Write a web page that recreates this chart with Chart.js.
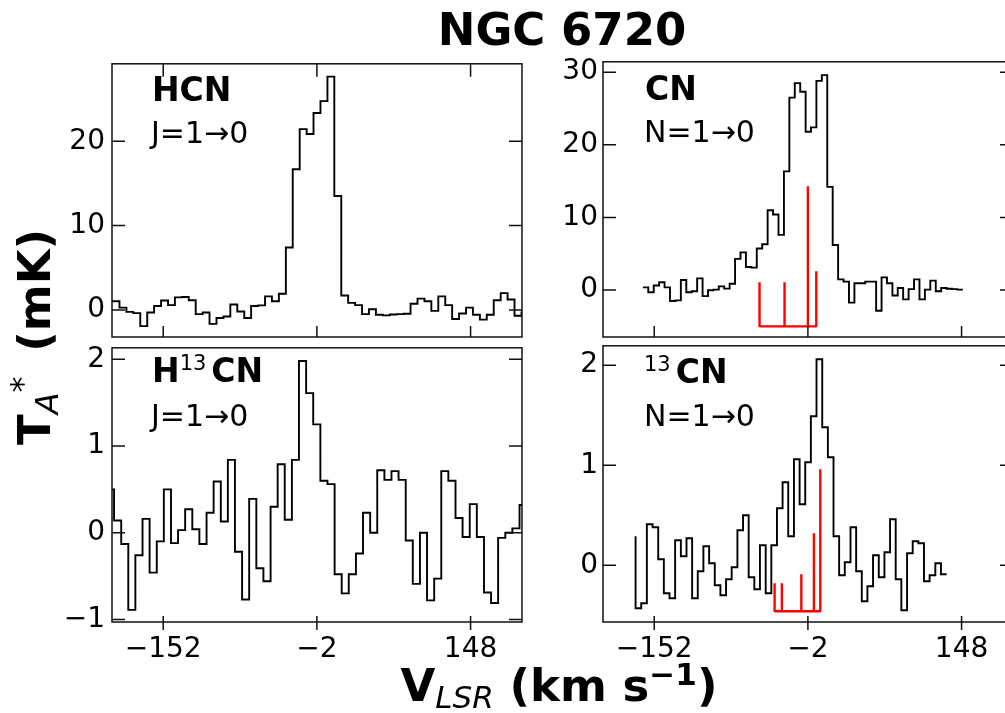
<!DOCTYPE html>
<html>
<head>
<meta charset="utf-8">
<script src="https://cdn.jsdelivr.net/npm/chart.js@4.4.1/dist/chart.umd.min.js"></script>
<style>
  html, body { margin: 0; padding: 0; background: #fff; overflow: hidden; }
  #fig { position: relative; width: 1005px; height: 713px; overflow: hidden;
         font-family: 'DejaVu Sans', sans-serif; color: #000; }
  #fig canvas { position: absolute; }
  .t { position: absolute; white-space: nowrap; line-height: 1; }
  .b { font-weight: bold; }
  .iso { font-size: 21px; font-weight: normal; vertical-align: 12px; line-height: 0; margin-right: 5px; }
</style>
</head>
<body>
<div id="fig">
  <canvas id="cTL"></canvas>
  <canvas id="cTR"></canvas>
  <canvas id="cBL"></canvas>
  <canvas id="cBR"></canvas>

  <div class="t b" style="left:262px;top:7px;width:600px;text-align:center;font-size:45px">NGC 6720</div>

  <div class="t b" style="left:152px;top:73px;font-size:33px">HCN</div>
  <div class="t" style="left:151px;top:118px;font-size:30px">J=1→0</div>
  <div class="t b" style="left:645px;top:72px;font-size:33px">CN</div>
  <div class="t" style="left:644px;top:117px;font-size:30px">N=1→0</div>
  <div class="t b" style="left:152px;top:354px;font-size:33px">H<span class="iso">13</span>CN</div>
  <div class="t" style="left:151px;top:401px;font-size:30px">J=1→0</div>
  <div class="t b" style="left:644px;top:355px;font-size:33px"><span class="iso">13</span>CN</div>
  <div class="t" style="left:644px;top:401px;font-size:30px">N=1→0</div>

  <div class="t b" style="left:259px;top:663px;width:600px;text-align:center;font-size:45px">V<span style="font-size:31px;font-style:italic;font-weight:normal;vertical-align:-7px;line-height:0">LSR</span> (km s<span style="font-size:31px;vertical-align:16px;line-height:0">−1</span>)</div>
  <div class="t b" style="left:12px;top:445px;font-size:45px;transform-origin:0 0;transform:rotate(-90deg)">T<span style="font-size:32px;font-style:italic;font-weight:normal;vertical-align:-8px;line-height:0">A</span><span style="font-size:32px;font-weight:normal;vertical-align:17px;line-height:0;margin-right:9px">*</span> (mK)</div>
</div>

<script>
// channel velocities (km/s, right edge of each channel) and antenna temperatures (mK)
const xTicks = [-152, -2, 148];

const hcnVel = [-208.2, -201.5, -194.7, -187.9, -181.2, -174.4, -167.6, -160.9, -154.1, -147.3,
  -140.6, -133.8, -127.1, -120.3, -113.5, -106.8, -100.0, -93.2, -86.5, -79.7,
  -72.9, -66.2, -59.4, -52.6, -45.9, -39.1, -32.3, -25.6, -18.8, -12.0,
  -5.3, 1.5, 8.3, 15.0, 21.8, 28.5, 35.3, 42.1, 48.8, 55.6,
  62.4, 69.1, 75.9, 82.7, 89.4, 96.2, 103.0, 109.7, 116.5, 123.3,
  130.0, 136.8, 143.6, 150.3, 157.1, 163.8, 170.6, 177.4, 184.1, 190.9,
  197.7, 204.4];
const hcnT = [1.03, 1.03, 1.03, 0.27, -0.23, -0.38, -1.92, -0.31, 0.46, 1.11,
  0.57, 1.49, 1.53, 1.15, -0.50, -0.31, -1.65, -0.96, -0.77, 0.65,
  -0.19, -0.96, 0.46, 0.54, 1.61, 1.03, 1.92, 7.41, 16.68, 21.44,
  20.87, 23.35, 24.76, 27.67, 13.51, 1.72, 0.84, 0.57, -0.50, 0.08,
  -0.57, -0.65, -0.55, -0.50, -0.45, 0.73, 1.34, 1.03, -0.11, 1.61,
  0.57, -1.07, -0.42, 0.27, -0.57, -1.15, -0.57, 1.15, 1.99, 1.23,
  -0.69, -0.30];

const h13cnVel = [-206.9, -200.0, -193.0, -186.1, -179.2, -172.2, -165.3, -158.3, -151.4, -144.4,
  -137.5, -130.6, -123.6, -116.7, -109.7, -102.8, -95.8, -88.9, -82.0, -75.0,
  -68.1, -61.1, -54.2, -47.2, -40.3, -33.4, -26.4, -19.5, -12.5, -5.6,
  1.4, 8.3, 15.3, 22.2, 29.1, 36.1, 43.0, 50.0, 56.9, 63.9,
  70.8, 77.7, 84.7, 91.6, 98.6, 105.5, 112.5, 119.4, 126.3, 133.3,
  140.2, 147.2, 154.1, 161.1, 168.0, 174.9, 181.9, 188.8, 195.8, 202.7];
const h13cnT = [0.50, 0.50, 0.14, -0.13, -0.89, -0.26, 0.16, -0.46, -0.10, 0.50,
  -0.12, 0.03, 0.27, 0.04, -0.13, 0.23, 0.59, 0.13, 0.84, -0.22,
  -0.77, 0.39, -0.41, -0.56, 0.30, 0.79, 0.15, 0.84, 1.98, 1.61,
  1.25, 0.60, 0.56, -0.48, -0.70, -0.48, -0.24, 0.23, 0.00, 0.72,
  0.61, 0.71, 0.61, -0.09, -0.59, 0.00, -0.78, -0.53, 0.71, 0.60,
  0.17, -0.05, 0.33, -0.05, -0.69, -0.81, -0.06, 0.00, 0.05, 0.32];

const cnVel = [-163.1, -157.8, -152.5, -147.2, -141.9, -136.6, -131.3, -126.0, -120.7, -115.4,
  -110.1, -104.8, -99.5, -94.2, -89.0, -83.7, -78.4, -73.1, -67.8, -62.5,
  -57.2, -51.9, -46.6, -41.3, -36.0, -30.7, -25.4, -20.1, -14.8, -9.5,
  -4.2, 1.0, 6.3, 11.6, 16.9, 22.2, 27.5, 32.8, 38.1, 43.4,
  48.7, 54.0, 59.3, 64.6, 69.9, 75.2, 80.5, 85.7, 91.0, 96.3,
  101.6, 106.9, 112.2, 117.5, 122.8, 128.1, 133.4, 138.7, 144.0, 149.3];
const cnT = [0.36, 0.36, -0.31, 0.63, 1.07, 0.36, -1.51, -1.42, 1.39, -0.31,
  -0.17, 1.61, -0.84, -0.04, 0.05, 0.50, 0.19, 0.86, 4.29, 5.18,
  3.17, 3.08, 5.72, 6.30, 10.98, 10.40, 7.60, 16.34, 26.5, 28.5,
  27.3, 21.8, 22.4, 28.8, 29.6, 14.2, 6.2, 1.47, 1.16, -1.74,
  0.94, 0.94, 1.16, 1.16, -2.85, 1.74, 0.94, -0.76, 0.27, -1.29,
  0.13, 1.47, -1.29, 0.05, 1.30, -0.17, 0.27, 0.18, 0.13, 0.05];

const c13nVel = [-170.2, -164.7, -159.2, -153.6, -148.1, -142.6, -137.1, -131.6, -126.0, -120.5,
  -115.0, -109.5, -104.0, -98.4, -92.9, -87.4, -81.9, -76.4, -70.8, -65.3,
  -59.8, -54.3, -48.8, -43.2, -37.7, -32.2, -26.7, -21.2, -15.6, -10.1,
  -4.6, 0.9, 6.4, 12.0, 17.5, 23.0, 28.5, 34.0, 39.6, 45.1,
  50.6, 56.1, 61.6, 67.2, 72.7, 78.2, 83.7, 89.2, 94.8, 100.3,
  105.8, 111.3, 116.8, 122.4, 127.9, 133.4];
const c13nT = [0.29, -0.43, -0.38, 0.41, 0.38, 0.06, -0.28, -0.33, 0.25, 0.09,
  0.27, -0.33, -0.06, 0.19, 0.02, -0.20, -0.30, -0.14, -0.02, 0.35,
  0.50, -0.12, -0.24, 0.20, -0.28, 0.20, 0.57, 0.83, 0.29, 1.06,
  0.61, 1.03, 1.49, 2.06, 1.38, 1.08, 0.29, -0.10, 0.03, 0.38,
  -0.06, -0.36, -0.21, 0.10, -0.12, 0.13, 0.46, -0.14, -0.45, 0.12,
  0.24, 0.22, -0.16, -0.10, 0.02, -0.09];

// hyperfine components (red combs)
const cnHfsVel = [-49.2, -24.8, -2.0, 6.2];
const cnHfsT = [1.07, 1.07, 14.3, 2.6];
const cnHfsBase = -5.0;
const c13nHfsVel = [-34.5, -27.4, -8.4, 3.9, 10.1];
const c13nHfsT = [-0.18, -0.18, -0.09, 0.32, 0.96];
const c13nHfsBase = -0.46;

const yTicksHCN = [0, 10, 20];
const yTicksCN = [0, 10, 20, 30];
const yTicksH13CN = [-1, 0, 1, 2];
const yTicks13CN = [0, 1, 2];

Chart.defaults.font.family = "'DejaVu Sans', sans-serif";
Chart.defaults.color = '#000';

function minus(v) { return v < 0 ? '\u2212' + Math.abs(v) : String(v); }

function steps(vel, t) { return vel.map((v, i) => ({ x: v, y: t[i] })); }

function comb(vel, tops, base) {
  const pts = [];
  vel.forEach((v, i) => {
    if (i > 0) pts.push({ x: v, y: base });
    pts.push({ x: v, y: tops[i] });
    if (i < vel.length - 1) pts.push({ x: v, y: base });
  });
  return pts;
}

// box frame with inward ticks, drawn on top of the data
const frame = {
  id: 'frame',
  afterDraw(chart, args, o) {
    const { ctx, chartArea: a, scales: { x, y } } = chart;
    ctx.save();
    ctx.strokeStyle = '#111';
    ctx.lineWidth = 1.5;
    ctx.strokeRect(a.left, a.top, a.right - a.left, a.bottom - a.top);
    ctx.beginPath();
    y.ticks.forEach(t => {
      const p = y.getPixelForValue(t.value);
      ctx.moveTo(a.left, p); ctx.lineTo(a.left + 13, p);
      ctx.moveTo(a.right, p); ctx.lineTo(a.right - 13, p);
    });
    x.ticks.forEach(t => {
      const p = x.getPixelForValue(t.value);
      if (o.top) { ctx.moveTo(p, a.top); ctx.lineTo(p, a.top + 13); }
      ctx.moveTo(p, a.bottom + o.out); ctx.lineTo(p, a.bottom - o.in);
    });
    ctx.stroke();
    ctx.restore();
  }
};

const PAD = { l: 100, t: 14, r: 16, b: 56 };

function panel(id, box, yMin, yMax, yTicks, showX, yPad, tickOpt, datasets) {
  const cv = document.getElementById(id);
  cv.width = box[2] - box[0] + PAD.l + PAD.r;
  cv.height = box[3] - box[1] + PAD.t + PAD.b;
  cv.style.left = (box[0] - PAD.l) + 'px';
  cv.style.top = (box[1] - PAD.t) + 'px';
  return new Chart(cv, {
    type: 'line',
    data: { datasets },
    options: {
      responsive: false,
      animation: false,
      devicePixelRatio: 1,
      events: [],
      layout: { padding: { left: 0, top: PAD.t, right: PAD.r, bottom: 0 } },
      plugins: { legend: { display: false }, tooltip: { enabled: false }, frame: tickOpt },
      elements: { point: { radius: 0 } },
      scales: {
        x: {
          type: 'linear', min: -202, max: 198.2,
          grid: { display: false, drawTicks: false },
          border: { display: false },
          afterBuildTicks: s => { s.ticks = xTicks.map(v => ({ value: v })); },
          afterFit: s => { s.height = PAD.b; },
          ticks: { display: showX, padding: 11, autoSkip: false, maxRotation: 0, minRotation: 0,
                   font: { size: 28 }, color: '#000', callback: minus }
        },
        y: {
          type: 'linear', min: yMin, max: yMax,
          grid: { display: false, drawTicks: false },
          border: { display: false },
          afterBuildTicks: s => { s.ticks = yTicks.map(v => ({ value: v })); },
          afterFit: s => { s.width = PAD.l; },
          ticks: { padding: yPad, autoSkip: false, font: { size: 28 }, color: '#000', callback: minus }
        }
      }
    },
    plugins: [frame]
  });
}

function spectrum(vel, t) {
  return { data: steps(vel, t), borderColor: '#000', borderWidth: 1.9, stepped: 'after',
           pointRadius: 0, fill: false, clip: 0 };
}
function hfs(vel, tops, base) {
  return { data: comb(vel, tops, base), borderColor: '#ff0000', borderWidth: 2.4, stepped: false,
           tension: 0, pointRadius: 0, fill: false, borderJoinStyle: 'bevel', clip: 0 };
}

panel('cTL', [112, 54, 522, 337], -3.21, 29.19, yTicksHCN, false, 7,
      { top: true, in: 11, out: 0 }, [spectrum(hcnVel, hcnT)]);
panel('cTR', [603, 54, 1013, 337], -6.47, 31.43, yTicksCN, false, 5,
      { top: false, in: 11, out: 0 },
      [hfs(cnHfsVel, cnHfsT, cnHfsBase), spectrum(cnVel, cnT)]);
panel('cBL', [112, 338, 522, 622], -1.03, 2.133, yTicksH13CN, true, 7,
      { top: false, in: 6, out: 8 }, [spectrum(h13cnVel, h13cnT)]);
panel('cBR', [603, 338, 1013, 622], -0.567, 2.194, yTicks13CN, true, 5,
      { top: false, in: 6, out: 8 },
      [hfs(c13nHfsVel, c13nHfsT, c13nHfsBase), spectrum(c13nVel, c13nT)]);
</script>
</body>
</html>
